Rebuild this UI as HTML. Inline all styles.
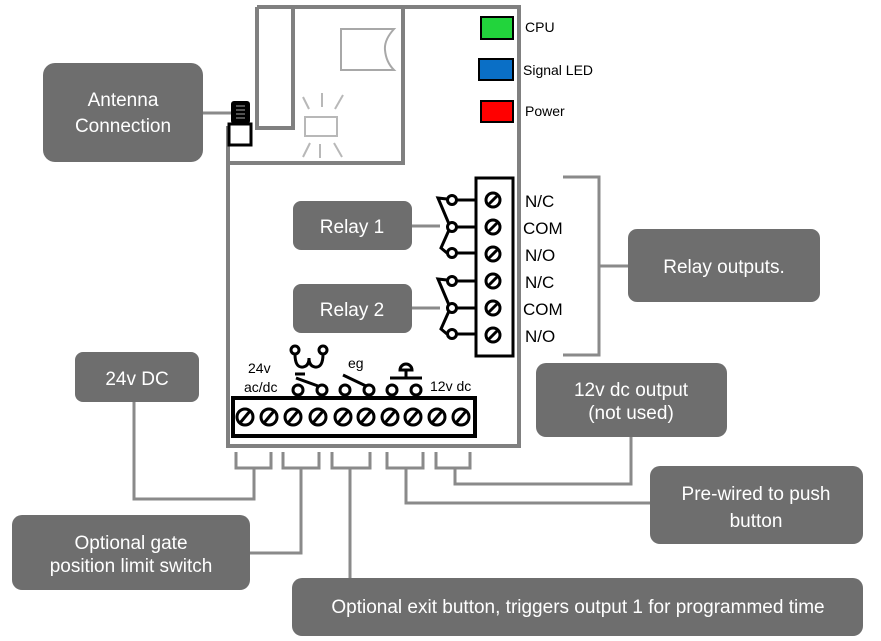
<!DOCTYPE html>
<html><head><meta charset="utf-8"><style>
html,body{margin:0;padding:0;background:#fff}
svg{display:block}
.b{fill:#6e6e6e}
.bt{fill:#fff;font-family:"Liberation Sans",sans-serif;font-size:19px;text-anchor:middle}
.lt{font-family:"Liberation Sans",sans-serif;font-size:14px;fill:#000}
.g{stroke:#808080;stroke-width:4;fill:none}
.gl{stroke:#8a8a8a;stroke-width:3;fill:none}
.k{stroke:#000;stroke-width:3;fill:none}
</style></head><body>
<svg width="881" height="641" viewBox="0 0 881 641" xmlns="http://www.w3.org/2000/svg">
<path class="g" d="M257 7 H519 V446 H228 V126"/>
<path class="g" d="M257 7 V128 H293 V7"/>
<path class="g" d="M403 7 V163 H228"/>
<path d="M341 29 H394 Q384 40 385 50 Q386 62 394 70 H341 Z" fill="none" stroke="#a8a8a8" stroke-width="2"/>
<rect x="305" y="117" width="32" height="19" fill="none" stroke="#b8b8b8" stroke-width="2"/>
<g stroke="#b8b8b8" stroke-width="2">
<line x1="303" y1="97" x2="309" y2="109"/><line x1="322" y1="93" x2="322" y2="107"/><line x1="343" y1="95" x2="335" y2="109"/>
<line x1="303" y1="157" x2="310" y2="143"/><line x1="320" y1="158" x2="320" y2="144"/><line x1="342" y1="157" x2="334" y2="143"/>
</g>
<rect x="231" y="101" width="19" height="23" rx="3" fill="#000"/>
<g stroke="#888" stroke-width="1.2"><line x1="236" y1="106" x2="245" y2="106"/><line x1="236" y1="110" x2="245" y2="110"/><line x1="236" y1="114" x2="245" y2="114"/><line x1="236" y1="118" x2="245" y2="118"/></g>
<rect x="229" y="124" width="22" height="21" fill="#fff" stroke="#000" stroke-width="3"/>
<line class="gl" x1="203" y1="113" x2="231" y2="113"/>
<rect x="481" y="17" width="32" height="22" fill="#22d43c" stroke="#000" stroke-width="2"/>
<rect x="479" y="59" width="34" height="21" fill="#0a6fc6" stroke="#000" stroke-width="2"/>
<rect x="481" y="101" width="32" height="21" fill="#f00" stroke="#000" stroke-width="2"/>
<text class="lt" x="525" y="32">CPU</text>
<text class="lt" x="523" y="75">Signal LED</text>
<text class="lt" x="525" y="116">Power</text>
<rect x="476" y="178" width="37" height="178" fill="#fff" stroke="#000" stroke-width="3"/>
<g class="k">
<circle cx="493" cy="200" r="7"/><line x1="488" y1="205" x2="498" y2="195"/>
<circle cx="493" cy="227" r="7"/><line x1="488" y1="232" x2="498" y2="222"/>
<circle cx="493" cy="254" r="7"/><line x1="488" y1="259" x2="498" y2="249"/>
<circle cx="493" cy="281" r="7"/><line x1="488" y1="286" x2="498" y2="276"/>
<circle cx="493" cy="308" r="7"/><line x1="488" y1="313" x2="498" y2="303"/>
<circle cx="493" cy="335" r="7"/><line x1="488" y1="340" x2="498" y2="330"/>
</g>
<g class="k">
<line x1="457" y1="200" x2="476" y2="200"/><line x1="457" y1="227" x2="476" y2="227"/><line x1="457" y1="253" x2="476" y2="253"/>
<line x1="457" y1="281" x2="476" y2="281"/><line x1="457" y1="308" x2="476" y2="308"/><line x1="457" y1="334" x2="476" y2="334"/>
<circle cx="452" cy="200" r="4.5"/><circle cx="452" cy="227" r="4.5"/><circle cx="452" cy="253" r="4.5"/>
<circle cx="452" cy="281" r="4.5"/><circle cx="452" cy="308" r="4.5"/><circle cx="452" cy="334" r="4.5"/>
<polyline points="447,199 438,198 449,224"/><polyline points="449,230 441,248 447,253"/>
<polyline points="447,280 438,279 449,305"/><polyline points="449,311 441,329 447,334"/>
</g>
<text class="lt" x="525" y="207" style="font-size:17px">N/C</text>
<text class="lt" x="523" y="234" style="font-size:17px">COM</text>
<text class="lt" x="525" y="261" style="font-size:17px">N/O</text>
<text class="lt" x="525" y="288" style="font-size:17px">N/C</text>
<text class="lt" x="523" y="315" style="font-size:17px">COM</text>
<text class="lt" x="525" y="342" style="font-size:17px">N/O</text>
<path class="gl" d="M563 177 H599 V355 H563 M599 266 H628"/>
<rect class="b" x="293" y="201" width="119" height="49" rx="8"/>
<text class="bt" x="352" y="233">Relay 1</text>
<line class="gl" x1="412" y1="226" x2="440" y2="226"/>
<rect class="b" x="293" y="284" width="119" height="49" rx="8"/>
<text class="bt" x="352" y="316">Relay 2</text>
<line class="gl" x1="412" y1="308" x2="440" y2="308"/>
<rect class="b" x="628" y="229" width="192" height="73" rx="9"/>
<text class="bt" x="724" y="273">Relay outputs.</text>
<rect class="b" x="43" y="63" width="160" height="99" rx="12"/>
<text class="bt" x="123" y="106">Antenna</text>
<text class="bt" x="123" y="132">Connection</text>
<text class="lt" x="248" y="373">24v</text>
<text class="lt" x="244" y="392">ac/dc</text>
<text class="lt" x="348" y="368">eg</text>
<text class="lt" x="430" y="391">12v dc</text>
<g class="k" stroke-width="2.2">
<circle cx="298" cy="390" r="5"/><circle cx="322" cy="390" r="5"/><circle cx="345" cy="390" r="5"/><circle cx="369" cy="390" r="5"/><circle cx="392" cy="390" r="5"/><circle cx="416" cy="390" r="5"/>
<line x1="296" y1="378" x2="318" y2="386"/><line x1="343" y1="375" x2="366" y2="386"/>
<line x1="390" y1="378" x2="422" y2="378"/><line x1="406" y1="378" x2="406" y2="370"/>
<path d="M400 370 A6 6 0 0 1 412 370 Z"/>
<line x1="295" y1="374" x2="305" y2="374"/>
</g>
<g class="k" stroke-width="3">
<circle cx="295" cy="350" r="4"/><circle cx="323" cy="350" r="4"/>
<path d="M295 354 Q295 368 303 367 Q309 366 309 358 Q309 366 315 367 Q323 368 323 354"/>
</g>
<rect x="233" y="398" width="242" height="38" fill="#fff" stroke="#000" stroke-width="4"/>
<g class="k">
<circle cx="245" cy="417" r="8"/><line x1="240" y1="423" x2="250" y2="411"/>
<circle cx="269" cy="417" r="8"/><line x1="264" y1="423" x2="274" y2="411"/>
<circle cx="293" cy="417" r="8"/><line x1="288" y1="423" x2="298" y2="411"/>
<circle cx="318" cy="417" r="8"/><line x1="313" y1="423" x2="323" y2="411"/>
<circle cx="343" cy="417" r="8"/><line x1="338" y1="423" x2="348" y2="411"/>
<circle cx="366" cy="417" r="8"/><line x1="361" y1="423" x2="371" y2="411"/>
<circle cx="390" cy="417" r="8"/><line x1="385" y1="423" x2="395" y2="411"/>
<circle cx="413" cy="417" r="8"/><line x1="408" y1="423" x2="418" y2="411"/>
<circle cx="437" cy="417" r="8"/><line x1="432" y1="423" x2="442" y2="411"/>
<circle cx="461" cy="417" r="8"/><line x1="456" y1="423" x2="466" y2="411"/>
</g>
<g class="gl">
<path d="M236 452 V468 H271 V452"/>
<path d="M283 452 V468 H319 V452"/>
<path d="M332 452 V468 H370 V452"/>
<path d="M387 452 V468 H423 V452"/>
<path d="M436 452 V468 H470 V452"/>
<path d="M134 402 V499 H254 V468"/>
<path d="M250 553 H301 V468"/>
<path d="M350 578 V468"/>
<path d="M650 503 H406 V468"/>
<path d="M631 437 V484 H455 V468"/>
</g>
<rect class="b" x="75" y="352" width="124" height="50" rx="8"/>
<text class="bt" x="137" y="385">24v DC</text>
<rect class="b" x="12" y="515" width="238" height="75" rx="10"/>
<text class="bt" x="131" y="549">Optional gate</text>
<text class="bt" x="131" y="572">position limit switch</text>
<rect class="b" x="292" y="578" width="571" height="58" rx="10"/>
<text class="bt" x="578" y="613">Optional exit button, triggers output 1 for programmed time</text>
<rect class="b" x="650" y="466" width="213" height="78" rx="10"/>
<text class="bt" x="756" y="500">Pre-wired to push</text>
<text class="bt" x="756" y="527">button</text>
<rect class="b" x="536" y="363" width="191" height="74" rx="10"/>
<text class="bt" x="631" y="396">12v dc output</text>
<text class="bt" x="631" y="419">(not used)</text>
</svg>
</body></html>
